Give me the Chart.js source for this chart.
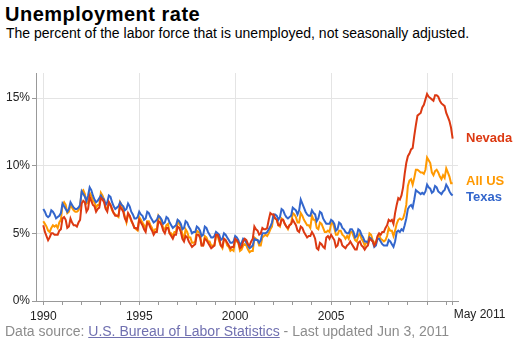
<!DOCTYPE html>
<html>
<head>
<meta charset="utf-8">
<script src="https://cdn.jsdelivr.net/npm/chart.js@4.4.1/dist/chart.umd.min.js"></script>
<style>
  html, body { margin:0; padding:0; background:#fff; }
  body { width:519px; height:355px; position:relative; overflow:hidden; font-family:"Liberation Sans", Arial, sans-serif; }
  #title { position:absolute; left:5px; top:4px; font-size:20px; line-height:20px; font-weight:bold; letter-spacing:0.5px; color:#000; white-space:nowrap; }
  #subtitle { position:absolute; left:6px; top:26px; font-size:14px; line-height:14px; color:#000; white-space:nowrap; }
  #source { position:absolute; left:5px; top:324px; font-size:14px; line-height:14px; color:#8c8c8c; white-space:nowrap; }
  #source a { color:#7070b0; text-decoration:underline; }
  canvas { position:absolute; left:0; top:0; }
</style>
</head>
<body>
<div id="title">Unemployment rate</div>
<div id="subtitle">The percent of the labor force that is unemployed, not seasonally adjusted.</div>
<canvas id="c" width="519" height="355"></canvas>
<div id="source">Data source: <a href="#">U.S. Bureau of Labor Statistics</a> - Last updated Jun 3, 2011</div>
<script>
// Monthly, Jan 1990 .. May 2011 (not seasonally adjusted, %)
const seriesNames = ["Nevada", "Texas", "All US"];
const seriesColors = ["#dc3912", "#3366cc", "#ff9900"];
const startYear = 1990;
const lastLabel = "May 2011";
const yTickValues = [0, 5, 10, 15];
const yearLabelEvery = 5;

const nevada = [
  5.6,5.1,4.8,4.5,4.7,5.0,5.0,4.9,4.9,4.9,5.2,5.3,
  6.1,6.2,6.0,5.4,5.5,6.1,5.8,5.6,5.6,5.5,5.8,6.0,
  7.2,7.4,7.3,6.6,6.8,7.7,7.4,7.1,7.0,6.6,6.8,6.9,
  7.6,7.5,7.3,6.8,6.6,7.3,7.1,6.8,6.5,6.3,6.3,6.3,
  7.0,6.8,6.6,6.1,5.9,6.5,6.3,6.0,5.7,5.4,5.4,5.3,
  6.0,5.8,5.6,5.3,5.1,5.8,5.7,5.4,5.2,4.9,5.1,5.1,
  5.9,5.8,5.6,5.2,5.0,5.4,5.4,5.0,4.8,4.6,4.9,4.9,
  5.5,5.4,5.1,4.6,4.4,4.8,4.7,4.4,4.2,4.0,4.1,4.2,
  4.9,4.9,4.7,4.1,4.1,4.6,4.5,4.3,4.1,3.9,4.0,4.1,
  4.9,4.9,4.6,4.1,4.0,4.6,4.5,4.3,4.1,3.9,4.0,4.0,
  4.6,4.5,4.3,3.9,4.0,4.4,4.6,4.5,4.2,4.1,4.4,4.6,
  5.5,5.3,5.2,4.9,5.0,5.4,5.3,5.3,5.4,6.0,6.5,6.4,
  6.4,6.1,6.0,5.6,5.6,6.0,6.0,5.7,5.5,5.4,5.6,5.7,
  6.0,5.8,5.6,5.2,5.1,5.5,5.4,5.1,4.9,4.7,4.8,4.8,
  5.1,4.9,4.6,3.9,3.8,4.3,4.2,4.0,3.9,4.7,4.8,4.6,
  4.9,4.7,4.5,4.0,4.1,4.6,4.5,4.1,4.0,3.9,4.1,4.2,
  4.4,4.2,4.0,3.8,3.8,4.3,4.4,4.1,4.0,3.8,4.0,4.1,
  4.6,4.5,4.4,4.1,4.3,4.8,5.0,4.9,5.1,5.1,5.4,5.6,
  6.0,5.9,6.0,5.7,6.5,7.1,7.6,7.5,7.8,8.4,9.4,10.2,
  10.7,10.9,11.2,11.3,12.2,13.0,13.7,13.8,13.9,14.3,14.5,14.9,
  15.3,15.1,15.0,14.9,14.8,15.2,15.2,15.1,14.8,14.6,14.5,14.4,
  13.9,13.6,13.3,12.8,12.0
];

const texas = [
  6.8,6.6,6.3,6.2,6.3,6.7,6.6,6.4,6.1,6.2,6.3,6.5,
  7.2,7.0,6.8,6.6,6.8,7.3,7.1,6.9,6.8,6.8,6.9,7.1,
  8.1,7.9,7.7,7.4,7.8,8.4,8.2,7.8,7.5,7.3,7.4,7.6,
  7.8,7.6,7.5,7.1,7.3,7.8,7.7,7.3,7.0,6.8,6.9,7.0,
  7.3,7.1,7.0,6.7,6.8,7.2,7.0,6.6,6.4,6.1,6.1,6.2,
  6.6,6.4,6.3,6.0,6.1,6.6,6.5,6.2,6.0,5.8,5.9,6.0,
  6.3,6.2,6.0,5.7,5.8,6.2,6.1,5.8,5.6,5.4,5.5,5.6,
  6.0,5.9,5.7,5.3,5.4,5.9,5.8,5.5,5.3,5.0,5.1,5.1,
  5.5,5.4,5.2,4.8,4.9,5.5,5.4,5.1,4.9,4.7,4.7,4.8,
  5.1,5.0,4.9,4.5,4.6,5.0,4.9,4.7,4.5,4.3,4.3,4.4,
  4.8,4.7,4.5,4.1,4.3,4.6,4.5,4.3,4.1,3.9,4.0,4.1,
  4.6,4.5,4.5,4.3,4.5,5.0,5.0,5.0,5.1,5.3,5.5,5.8,
  6.4,6.4,6.3,6.0,6.2,6.8,6.7,6.4,6.2,6.1,6.2,6.3,
  6.9,6.8,6.7,6.4,6.7,7.5,7.2,6.9,6.6,6.4,6.3,6.3,
  6.7,6.5,6.4,5.9,6.1,6.6,6.5,6.1,5.9,5.7,5.7,5.7,
  6.0,5.9,5.7,5.2,5.3,5.8,5.7,5.4,5.3,5.1,5.0,5.0,
  5.3,5.3,5.1,4.7,4.8,5.3,5.2,4.9,4.7,4.4,4.4,4.3,
  4.7,4.6,4.4,4.0,4.1,4.6,4.6,4.4,4.2,4.1,4.1,4.1,
  4.5,4.4,4.2,4.0,4.4,5.1,5.2,5.1,5.3,5.2,5.6,6.1,
  6.8,7.0,7.1,6.9,7.5,8.2,8.1,8.0,7.9,8.0,7.9,8.1,
  8.6,8.4,8.3,8.0,8.1,8.5,8.4,8.1,8.0,7.9,8.1,8.2,
  8.6,8.4,8.1,7.9,7.8
];

const allUS = [
  5.9,5.7,5.5,5.2,5.1,5.4,5.6,5.5,5.6,5.4,5.8,6.0,
  7.1,7.3,7.1,6.5,6.6,7.1,6.9,6.7,6.6,6.6,6.7,7.0,
  8.1,8.2,7.9,7.2,7.3,8.0,7.8,7.4,7.3,6.9,7.1,7.1,
  8.0,7.8,7.5,6.9,6.8,7.3,7.1,6.7,6.5,6.4,6.3,6.2,
  7.3,7.1,6.8,6.2,5.8,6.4,6.3,5.9,5.7,5.4,5.3,5.2,
  6.2,6.0,5.8,5.6,5.3,5.9,5.9,5.6,5.4,5.1,5.3,5.3,
  6.3,6.1,5.8,5.4,5.3,5.6,5.7,5.0,5.0,4.8,5.1,5.1,
  5.9,5.7,5.5,4.9,4.6,5.3,5.1,4.7,4.7,4.3,4.3,4.4,
  5.2,5.1,5.0,4.1,4.1,4.8,4.7,4.4,4.4,4.1,4.1,4.1,
  4.8,4.8,4.4,4.1,3.9,4.6,4.5,4.1,4.0,3.7,3.8,3.7,
  4.5,4.4,4.3,3.7,3.8,4.1,4.2,4.1,3.8,3.6,3.7,3.7,
  4.7,4.6,4.5,4.1,4.1,4.7,4.8,4.9,4.8,5.0,5.3,5.5,
  6.3,6.1,6.0,5.6,5.5,6.1,6.0,5.7,5.5,5.3,5.6,5.7,
  6.5,6.4,6.2,5.8,5.8,6.5,6.3,6.0,5.8,5.6,5.6,5.4,
  6.3,6.0,6.0,5.4,5.3,5.8,5.7,5.4,5.1,5.1,5.2,5.1,
  5.7,5.8,5.4,4.9,4.9,5.2,5.2,4.9,4.8,4.6,4.8,4.6,
  5.1,5.1,4.8,4.5,4.4,4.8,5.0,4.6,4.4,4.1,4.3,4.3,
  5.0,4.9,4.5,4.3,4.3,4.7,4.9,4.6,4.5,4.4,4.5,4.8,
  5.4,5.2,5.2,4.8,5.2,5.7,6.0,6.1,6.0,6.1,6.5,7.1,
  8.5,8.9,9.0,8.6,9.1,9.7,9.7,9.6,9.5,9.5,9.4,9.7,
  10.6,10.4,10.2,9.5,9.3,9.6,9.7,9.5,9.2,9.0,9.3,9.1,
  9.8,9.5,9.2,8.7,8.7
];

const seriesValues = [nevada, texas, allUS];
const lastIndex = allUS.length - 1;           // May 2011
const tickMonths = [];
for (let m = 0; m <= lastIndex; m += 12) tickMonths.push(m);
tickMonths.push(lastIndex);

const FONT = '"Liberation Sans", Arial, sans-serif';

const endLabels = {
  id: 'endLabels',
  afterDraw(chart) {
    const ctx = chart.ctx;
    const y = chart.scales.y;
    const x = chart.scales.x;
    const items = chart.data.datasets.map((ds, i) => ({
      text: ds.label, color: ds.borderColor,
      y: y.getPixelForValue(ds.data[ds.data.length - 1].y)
    })).sort((a, b) => a.y - b.y);
    const gap = 16;
    for (let it = 0; it < 20; it++) {
      for (let i = 0; i < items.length - 1; i++) {
        const d = items[i + 1].y - items[i].y;
        if (d < gap) { const s = (gap - d) / 2; items[i].y -= s; items[i + 1].y += s; }
      }
    }
    ctx.save();
    ctx.font = 'bold 13px ' + FONT;
    ctx.textBaseline = 'middle';
    ctx.textAlign = 'left';
    items.forEach(o => { ctx.fillStyle = o.color; ctx.fillText(o.text, 466, o.y); });
    ctx.font = '12px ' + FONT;
    ctx.fillStyle = '#222';
    ctx.textBaseline = 'top';
    ctx.fillText(lastLabel, x.getPixelForValue(lastIndex) + 1, x.top + 8);
    ctx.restore();
  }
};

const chart = new Chart(document.getElementById('c'), {
  type: 'line',
  data: {
    datasets: seriesNames.map((name, i) => ({
      label: name,
      data: seriesValues[i].map((v, k) => ({ x: k, y: v })),
      borderColor: seriesColors[i],
      backgroundColor: seriesColors[i],
      borderWidth: 2,
      pointRadius: 0,
      tension: 0,
      fill: false
    }))
  },
  options: {
    responsive: false,
    animation: false,
    devicePixelRatio: 1,
    layout: { padding: { left: 0, top: 73, right: 61, bottom: 32 } },
    plugins: { legend: { display: false }, tooltip: { enabled: false } },
    scales: {
      x: {
        type: 'linear',
        min: -4.57,
        max: 259.35,
        afterBuildTicks: s => { s.ticks = tickMonths.map(v => ({ value: v })); },
        afterFit: s => { s.height = 22; },
        grid: {
          color: c => (c.tick && (c.tick.value % (12 * yearLabelEvery) === 0 || c.tick.value === lastIndex)) ? '#e4e4e4' : 'rgba(0,0,0,0)',
          tickColor: '#999',
          tickLength: 4,
          drawTicks: true
        },
        border: { color: '#999', width: 1 },
        ticks: {
          autoSkip: false, maxRotation: 0, padding: 4,
          color: '#222', font: { family: FONT, size: 12 },
          callback: v => (v % (12 * yearLabelEvery) === 0 && v !== lastIndex && v < 240) ? String(startYear + v / 12) : ''
        }
      },
      y: {
        min: 0,
        max: 16.85,
        afterBuildTicks: s => { s.ticks = yTickValues.map(v => ({ value: v })); },
        afterFit: s => { s.width = 36; },
        grid: { color: '#e4e4e4', tickColor: '#999', tickLength: 4 },
        border: { color: '#999', width: 1 },
        ticks: { padding: 2, color: '#222', font: { family: FONT, size: 12 }, callback: v => v + '%' }
      }
    }
  },
  plugins: [endLabels]
});
</script>
</body>
</html>
